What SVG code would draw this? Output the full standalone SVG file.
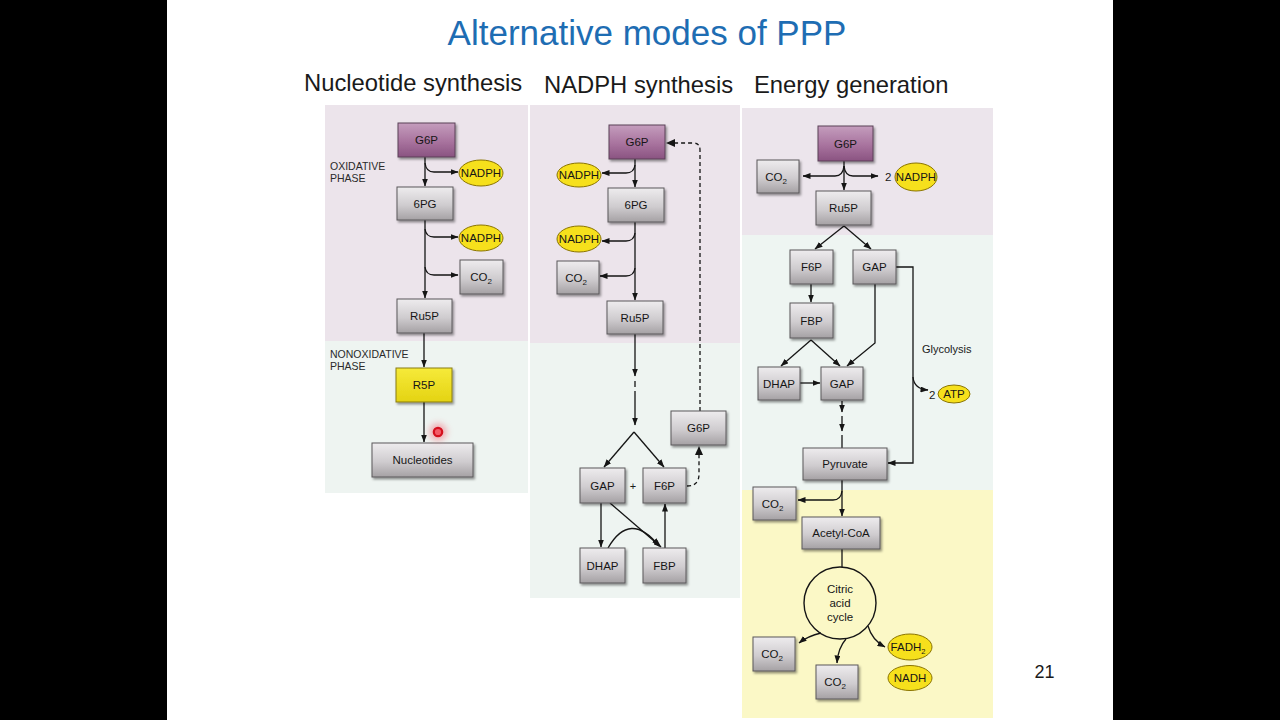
<svg xmlns="http://www.w3.org/2000/svg" width="1280" height="720" viewBox="0 0 1280 720">
<style>
.t{font-family:"Liberation Sans",Arial,sans-serif;fill:#1a1a1a}
.lbl{font-family:"Liberation Sans",Arial,sans-serif;font-size:11.5px;text-anchor:middle;fill:#161616}
.sm{font-family:"Liberation Sans",Arial,sans-serif;font-size:10.5px;fill:#2a2a2a}
.box{fill:url(#gGray);stroke:#5a585a;stroke-width:1;filter:url(#sh)}
.pbox{fill:url(#gPur);stroke:#5a4057;stroke-width:1;filter:url(#sh)}
.ybox{fill:url(#gYel);stroke:#8a7d10;stroke-width:1;filter:url(#sh)}
.ell{fill:#f6e01c;stroke:#8a7400;stroke-width:1}
.ln{stroke:#151515;stroke-width:1.3;fill:none}
.arr{stroke:#151515;stroke-width:1.3;fill:none;marker-end:url(#ah)}
.dash{stroke:#151515;stroke-width:1.3;fill:none;stroke-dasharray:4 3}
</style>
<defs>
<linearGradient id="gGray" x1="0" y1="0" x2="0" y2="1">
<stop offset="0" stop-color="#eeecee"/><stop offset="0.55" stop-color="#cfcccf"/><stop offset="1" stop-color="#a5a1a4"/>
</linearGradient>
<linearGradient id="gPur" x1="0" y1="0" x2="0" y2="1">
<stop offset="0" stop-color="#c49dbd"/><stop offset="0.55" stop-color="#a8739e"/><stop offset="1" stop-color="#8a5381"/>
</linearGradient>
<linearGradient id="gYel" x1="0" y1="0" x2="0" y2="1">
<stop offset="0" stop-color="#f6ea3a"/><stop offset="1" stop-color="#e4d312"/>
</linearGradient>
<filter id="sh" x="-20%" y="-20%" width="150%" height="160%">
<feDropShadow dx="1.5" dy="2" stdDeviation="1.3" flood-color="#000" flood-opacity="0.4"/>
</filter>
<filter id="blur" x="-100%" y="-100%" width="300%" height="300%"><feGaussianBlur stdDeviation="3"/></filter>
<marker id="ah" markerWidth="8" markerHeight="6" refX="7.5" refY="3" orient="auto" markerUnits="userSpaceOnUse">
<path d="M0,0 L8,3 L0,6 z" fill="#151515"/>
</marker>
</defs>

<rect x="0" y="0" width="1280" height="720" fill="#000"/>
<rect x="167" y="0" width="946" height="720" fill="#fff"/>

<g id="panels">
<rect x="325" y="105" width="203" height="236" fill="#ece4eb"/>
<rect x="325" y="341" width="203" height="152" fill="#eef4f1"/>
<rect x="530" y="105" width="210" height="238" fill="#ece4eb"/>
<rect x="530" y="343" width="210" height="255" fill="#eef4f1"/>
<rect x="742" y="108" width="251" height="127" fill="#ece5ec"/>
<rect x="742" y="235" width="251" height="255" fill="#eef5f2"/>
<rect x="742" y="490" width="251" height="228" fill="#fbf8c6"/>
</g>

<g id="titles">
<text x="647" y="45" text-anchor="middle" font-family="Liberation Sans, Arial, sans-serif" font-size="35" fill="#1e6db3">Alternative modes of PPP</text>
<text class="t" x="304" y="91" font-size="23.8">Nucleotide synthesis</text>
<text class="t" x="544" y="93" font-size="23.8">NADPH synthesis</text>
<text class="t" x="754" y="93" font-size="23.8">Energy generation</text>
<text class="t" x="1044.5" y="678" font-size="18" text-anchor="middle">21</text>
<text class="sm" x="330" y="169.5">OXIDATIVE</text>
<text class="sm" x="330" y="182">PHASE</text>
<text class="sm" x="330" y="358">NONOXIDATIVE</text>
<text class="sm" x="330" y="370">PHASE</text>
<text class="t" x="922" y="353" font-size="11">Glycolysis</text>
<text class="t" x="885" y="181" font-size="11.5">2</text>
<text class="t" x="929" y="398.5" font-size="11.5">2</text>
<text class="t" x="633" y="490" font-size="11" text-anchor="middle" fill="#555">+</text>
</g>

<g id="connectors">
<!-- left -->
<path class="arr" d="M425,157 L425,186"/>
<path class="arr" d="M425,163 Q426,172 434,172 L458,172"/>
<path class="arr" d="M425,220 L425,298"/>
<path class="arr" d="M425,229 Q426,237 434,237 L458,237"/>
<path class="arr" d="M425,267 Q426,275 434,275 L458,275"/>
<path class="arr" d="M424,333 L424,367"/>
<path class="arr" d="M424,402 L424,442"/>
<!-- middle -->
<path class="arr" d="M635,159 L635,187"/>
<path class="arr" d="M635,165 Q634,173 626,173 L602,173"/>
<path class="arr" d="M635,222 L635,300"/>
<path class="arr" d="M635,233 Q634,241 626,241 L602,241"/>
<path class="arr" d="M635,268 Q634,276 626,276 L600,276"/>
<path class="arr" d="M635,334 L635,376"/>
<path class="ln" d="M635,381 L635,387"/>
<path class="arr" d="M635,391 L635,425"/>
<path class="arr" d="M634,432 L604,467"/>
<path class="arr" d="M634,432 L664,467"/>
<path class="arr" d="M601,503 L601,547"/>
<path class="arr" d="M610,503 L661,547"/>
<path class="arr" d="M608,548 Q630,510 659,546"/>
<path class="arr" d="M665,548 L665,504"/>
<path class="dash" d="M687,486 Q699,486 699,474 L699,454"/>
<path d="M695,455 L699,446 L703,455 z" fill="#151515"/>
<path class="dash" d="M700,411 L700,150 Q700,143 693,143 L674,143"/>
<path d="M675,139 L666,143 L675,147 z" fill="#151515"/>
<!-- right -->
<path class="arr" d="M844,161 L844,190"/>
<path class="arr" d="M844,166 Q843,176 835,176 L803,176"/>
<path class="arr" d="M844,166 Q845,176 853,176 L878,176"/>
<path class="arr" d="M844,226 L815,249"/>
<path class="arr" d="M844,226 L871,249"/>
<path class="arr" d="M811,284 L811,302"/>
<path class="arr" d="M811,340 L781,366"/>
<path class="arr" d="M811,340 L840,366"/>
<path class="arr" d="M875,284 L875,343 L847,366"/>
<path class="arr" d="M800,383 L820,383"/>
<path class="arr" d="M842,401 L842,412"/>
<path class="arr" d="M842,416 L842,431"/>
<path class="ln" d="M842,435 L842,448"/>
<path class="arr" d="M896,267 L913,267 L913,463 L888,463"/>
<path class="arr" d="M913,377 Q914,389 928,390"/>
<path class="arr" d="M842,480 L842,516"/>
<path class="arr" d="M842,491 Q841,500 833,500 L798,500"/>
<path class="ln" d="M842,549 L842,567"/>
<path class="arr" d="M821,633 Q808,636 799,643"/>
<path class="arr" d="M846,639 Q838,648 837,663"/>
<path class="arr" d="M868,626 Q872,640 885,647"/>
</g>

<g id="L_G6P"><rect class="pbox" x="398" y="123" width="57" height="34"/><text class="lbl" x="426.5" y="144">G6P</text></g>
<g id="L_NADPH1"><ellipse class="ell" cx="481" cy="173" rx="22" ry="13"/><text class="lbl" x="481" y="177" font-size="11">NADPH</text></g>
<g id="L_6PG"><rect class="box" x="397" y="187" width="56" height="33"/><text class="lbl" x="425" y="208">6PG</text></g>
<g id="L_NADPH2"><ellipse class="ell" cx="481" cy="238" rx="22" ry="13"/><text class="lbl" x="481" y="242" font-size="11">NADPH</text></g>
<g id="L_CO2"><rect class="box" x="460" y="260" width="43" height="34"/><text class="lbl" x="481" y="281">CO<tspan font-size="8" dy="3">2</tspan></text></g>
<g id="L_Ru5P"><rect class="box" x="397" y="299" width="55" height="34"/><text class="lbl" x="424.5" y="320">Ru5P</text></g>
<g id="L_R5P"><rect class="ybox" x="396" y="368" width="56" height="34"/><text class="lbl" x="424" y="389">R5P</text></g>
<g id="L_Nucleotides"><rect class="box" x="372" y="443" width="101" height="34"/><text class="lbl" x="422.5" y="464">Nucleotides</text></g>

<g id="M_G6P"><rect class="pbox" x="609" y="125" width="56" height="34"/><text class="lbl" x="637" y="146">G6P</text></g>
<g id="M_NADPH1"><ellipse class="ell" cx="579" cy="175" rx="22" ry="12"/><text class="lbl" x="579" y="179" font-size="11">NADPH</text></g>
<g id="M_6PG"><rect class="box" x="608" y="188" width="56" height="34"/><text class="lbl" x="636" y="209">6PG</text></g>
<g id="M_NADPH2"><ellipse class="ell" cx="579" cy="239" rx="22" ry="13"/><text class="lbl" x="579" y="243" font-size="11">NADPH</text></g>
<g id="M_CO2"><rect class="box" x="557" y="261" width="42" height="33"/><text class="lbl" x="576" y="282">CO<tspan font-size="8" dy="3">2</tspan></text></g>
<g id="M_Ru5P"><rect class="box" x="607" y="301" width="56" height="33"/><text class="lbl" x="635" y="322">Ru5P</text></g>
<g id="M_G6P2"><rect class="box" x="671" y="411" width="55" height="34"/><text class="lbl" x="698.5" y="432">G6P</text></g>
<g id="M_GAP"><rect class="box" x="580" y="468" width="45" height="35"/><text class="lbl" x="602.5" y="490">GAP</text></g>
<g id="M_F6P"><rect class="box" x="643" y="468" width="43" height="35"/><text class="lbl" x="664.5" y="490">F6P</text></g>
<g id="M_DHAP"><rect class="box" x="580" y="548" width="45" height="35"/><text class="lbl" x="602.5" y="570">DHAP</text></g>
<g id="M_FBP"><rect class="box" x="643" y="548" width="43" height="35"/><text class="lbl" x="664.5" y="570">FBP</text></g>

<g id="R_G6P"><rect class="pbox" x="818" y="126" width="55" height="35"/><text class="lbl" x="845.5" y="148">G6P</text></g>
<g id="R_CO2a"><rect class="box" x="757" y="160" width="42" height="33"/><text class="lbl" x="776" y="181">CO<tspan font-size="8" dy="3">2</tspan></text></g>
<g id="R_NADPH"><ellipse class="ell" cx="916" cy="177" rx="21" ry="14"/><text class="lbl" x="916" y="181" font-size="11">NADPH</text></g>
<g id="R_Ru5P"><rect class="box" x="816" y="191" width="55" height="34"/><text class="lbl" x="843.5" y="212">Ru5P</text></g>
<g id="R_F6P"><rect class="box" x="790" y="250" width="43" height="34"/><text class="lbl" x="811.5" y="271">F6P</text></g>
<g id="R_GAP1"><rect class="box" x="853" y="250" width="43" height="34"/><text class="lbl" x="874.5" y="271">GAP</text></g>
<g id="R_FBP"><rect class="box" x="790" y="303" width="43" height="35"/><text class="lbl" x="811.5" y="325">FBP</text></g>
<g id="R_DHAP"><rect class="box" x="758" y="367" width="42" height="33"/><text class="lbl" x="779" y="388">DHAP</text></g>
<g id="R_GAP2"><rect class="box" x="821" y="367" width="42" height="33"/><text class="lbl" x="842" y="388">GAP</text></g>
<g id="R_ATP"><ellipse class="ell" cx="954" cy="394" rx="16" ry="9"/><text class="lbl" x="954" y="398" font-size="11">ATP</text></g>
<g id="R_Pyruvate"><rect class="box" x="803" y="448" width="84" height="32"/><text class="lbl" x="845" y="468">Pyruvate</text></g>
<g id="R_CO2b"><rect class="box" x="753" y="487" width="43" height="33"/><text class="lbl" x="772.5" y="508">CO<tspan font-size="8" dy="3">2</tspan></text></g>
<g id="R_AcetylCoA"><rect class="box" x="802" y="517" width="78" height="32"/><text class="lbl" x="841" y="537">Acetyl-CoA</text></g>
<g id="R_TCA"><circle cx="840" cy="603" r="36" fill="none" stroke="#151515" stroke-width="1.4"/>
<text class="lbl" x="840" y="593">Citric</text><text class="lbl" x="840" y="607">acid</text><text class="lbl" x="840" y="621">cycle</text></g>
<g id="R_CO2c"><rect class="box" x="753" y="637" width="42" height="34"/><text class="lbl" x="772" y="658">CO<tspan font-size="8" dy="3">2</tspan></text></g>
<g id="R_CO2d"><rect class="box" x="816" y="665" width="42" height="34"/><text class="lbl" x="835" y="686">CO<tspan font-size="8" dy="3">2</tspan></text></g>
<g id="R_FADH2"><ellipse class="ell" cx="910" cy="647" rx="22" ry="13"/><text class="lbl" x="908" y="651" font-size="11">FADH<tspan font-size="7.5" dy="3">2</tspan></text></g>
<g id="R_NADH"><ellipse class="ell" cx="910" cy="678" rx="22" ry="12.5"/><text class="lbl" x="910" y="682" font-size="11">NADH</text></g>

<g id="pointer">
<circle cx="438" cy="432" r="9" fill="#f26a78" opacity="0.5" filter="url(#blur)"/>
<circle cx="438" cy="432" r="4.2" fill="#f35a66" stroke="#d4101e" stroke-width="2.2"/>
</g>
</svg>
